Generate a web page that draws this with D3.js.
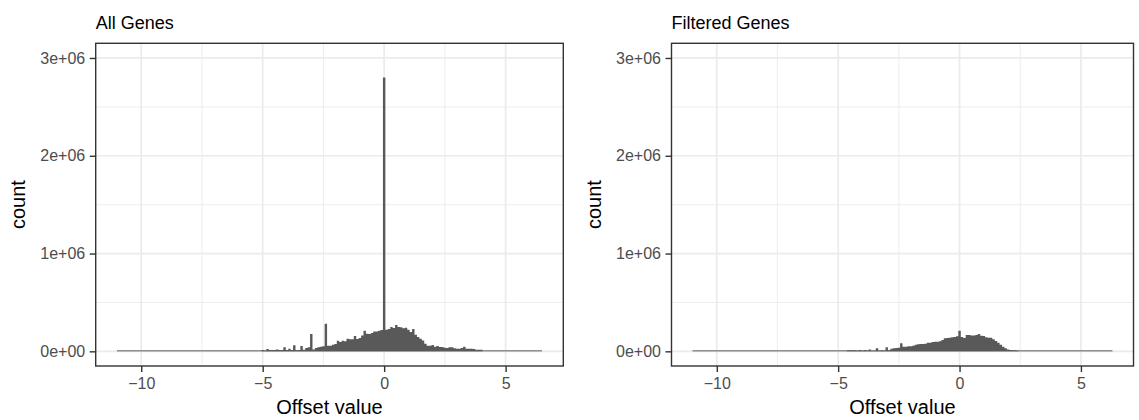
<!DOCTYPE html>
<html>
<head>
<meta charset="utf-8">
<script src="https://cdn.jsdelivr.net/npm/d3@7"></script>
<style>
body { margin: 0; background: #fff; }
svg { font-family: "Liberation Sans", Arial, Helvetica, sans-serif; }
</style>
</head>
<body>
<svg id="chart" width="1139" height="420"></svg>
<script>
// histogram bins are 0.1 wide; counts
var binWidth = 0.1;
var tailCount = 10000;          // sparse tails show as a thin line

var allRange = [-11, 6.5];
var allStart = -5.0;
var allCounts = [
    14000, 7000, 24000, 14000, 14000, 14000, 20000, 14000, 14000, 41000,
    14000, 27000, 14000, 61000, 10000, 14000, 54000, 17000, 34000, 41000,
    177000, 20000, 34000, 41000, 48000, 51000, 283000, 58000, 58000, 68000,
    75000, 109000, 95000, 109000, 102000, 129000, 123000, 123000, 157000, 126000,
    136000, 163000, 211000, 180000, 177000, 187000, 204000, 204000, 211000, 218000,
    2800000, 221000, 228000, 249000, 238000, 269000, 249000, 245000, 235000, 242000,
    221000, 197000, 228000, 170000, 146000, 129000, 112000, 78000, 58000, 58000,
    65000, 48000, 54000, 44000, 44000, 37000, 34000, 41000, 41000, 31000,
    27000, 27000, 34000, 48000, 27000, 27000, 27000, 24000, 17000, 17000,
    17000
];

var filteredRange = [-11, 6.3];
var filteredStart = -4.6;
var filteredCounts = [
    10000, 10000, 10000, 10000, 7000, 14000, 7000, 14000, 7000, 20000,
    7000, 7000, 31000, 7000, 10000, 7000, 41000, 10000, 27000, 31000,
    34000, 37000, 82000, 48000, 48000, 51000, 51000, 58000, 68000, 72000,
    75000, 75000, 78000, 89000, 89000, 95000, 99000, 99000, 102000, 116000,
    133000, 136000, 140000, 143000, 146000, 153000,
    211000, 146000, 136000, 167000, 167000, 163000, 163000, 167000, 177000, 160000,
    157000, 143000, 140000, 140000, 123000, 106000, 89000, 68000, 48000, 31000,
    20000, 14000, 10000, 10000, 7000
];

var panelTitles = ["All Genes", "Filtered Genes"];
var xTicks = [-10, -5, 0, 5];
var xTickLabels = ["\u221210", "\u22125", "0", "5"];
var xMinor = [-7.5, -2.5, 2.5];
var yTicks = [0, 1e6, 2e6, 3e6];
var yTickLabels = ["0e+00", "1e+06", "2e+06", "3e+06"];
var yMinor = [0.5e6, 1.5e6, 2.5e6];
var yLimits = [0, 3e6];

var svg = d3.select("#chart");

function drawPanel(left, right, title, range, start, counts) {
    var top = 43.3, height = 322.7, width = right - left;
    var span = range[1] - range[0];
    var ySpan = yLimits[1] - yLimits[0];

    var x = d3.scaleLinear()
        .domain([range[0] - 0.05 * span, range[1] + 0.05 * span])
        .range([left, right]);
    var y = d3.scaleLinear()
        .domain([yLimits[0] - 0.05 * ySpan, yLimits[1] + 0.05 * ySpan])
        .range([top + height, top]);

    var g = svg.append("g");

    // grid
    g.selectAll(".ymin").data(yMinor).enter().append("line")
        .attr("x1", left).attr("x2", right)
        .attr("y1", d => y(d)).attr("y2", d => y(d))
        .attr("stroke", "#ebebeb").attr("stroke-width", 0.9);
    g.selectAll(".xmin").data(xMinor).enter().append("line")
        .attr("y1", top).attr("y2", top + height)
        .attr("x1", d => x(d)).attr("x2", d => x(d))
        .attr("stroke", "#ebebeb").attr("stroke-width", 0.9);
    g.selectAll(".ymaj").data(yTicks).enter().append("line")
        .attr("x1", left).attr("x2", right)
        .attr("y1", d => y(d)).attr("y2", d => y(d))
        .attr("stroke", "#ebebeb").attr("stroke-width", 1.7);
    g.selectAll(".xmaj").data(xTicks).enter().append("line")
        .attr("y1", top).attr("y2", top + height)
        .attr("x1", d => x(d)).attr("x2", d => x(d))
        .attr("stroke", "#ebebeb").attr("stroke-width", 1.7);

    // sparse tails
    g.append("rect")
        .attr("x", x(range[0]))
        .attr("width", x(range[1]) - x(range[0]))
        .attr("y", y(tailCount))
        .attr("height", y(0) - y(tailCount))
        .attr("fill", "#595959");

    // bars as one stepped shape so neighbouring bins leave no seams
    var steps = counts.map(function(c, i) {
        return [+(start + i * binWidth - binWidth / 2).toFixed(2), c];
    });
    steps.push([+(start + counts.length * binWidth - binWidth / 2).toFixed(2), counts[counts.length - 1]]);
    var area = d3.area()
        .x(d => x(d[0]))
        .y0(y(0))
        .y1(d => y(d[1]))
        .curve(d3.curveStepAfter);
    g.append("path")
        .datum(steps)
        .attr("d", area)
        .attr("fill", "#595959");

    // border
    g.append("rect")
        .attr("x", left).attr("y", top)
        .attr("width", width).attr("height", height)
        .attr("fill", "none").attr("stroke", "#333333").attr("stroke-width", 1.4);

    var xAxis = g.append("g")
        .attr("transform", "translate(0," + (top + height) + ")")
        .call(d3.axisBottom(x).tickValues(xTicks)
            .tickFormat((d, i) => xTickLabels[i])
            .tickSize(6).tickPadding(5.5));
    var yAxis = g.append("g")
        .attr("transform", "translate(" + left + ",0)")
        .call(d3.axisLeft(y).tickValues(yTicks)
            .tickFormat((d, i) => yTickLabels[i])
            .tickSize(6).tickPadding(4.5));
    [xAxis, yAxis].forEach(function(a) {
        a.select(".domain").remove();
        a.selectAll(".tick line").attr("stroke", "#333333").attr("stroke-width", 1.4);
        a.selectAll(".tick text")
            .attr("fill", "#4d4d4d")
            .style("font-size", "16px")
            .style("font-family", "'Liberation Sans', Arial, sans-serif");
    });

    g.append("text")
        .attr("x", left).attr("y", 29)
        .style("font-size", "18px")
        .text(title);
    g.append("text")
        .attr("x", left + width / 2).attr("y", 414)
        .attr("text-anchor", "middle")
        .style("font-size", "20px")
        .text("Offset value");
    g.append("text")
        .attr("transform", "translate(" + (left - 70.7) + "," + (top + height / 2) + ") rotate(-90)")
        .attr("text-anchor", "middle")
        .style("font-size", "20px")
        .text("count");
}

drawPanel(95.7, 563.3, panelTitles[0], allRange, allStart, allCounts);
drawPanel(671.5, 1133.5, panelTitles[1], filteredRange, filteredStart, filteredCounts);
</script>
</body>
</html>
